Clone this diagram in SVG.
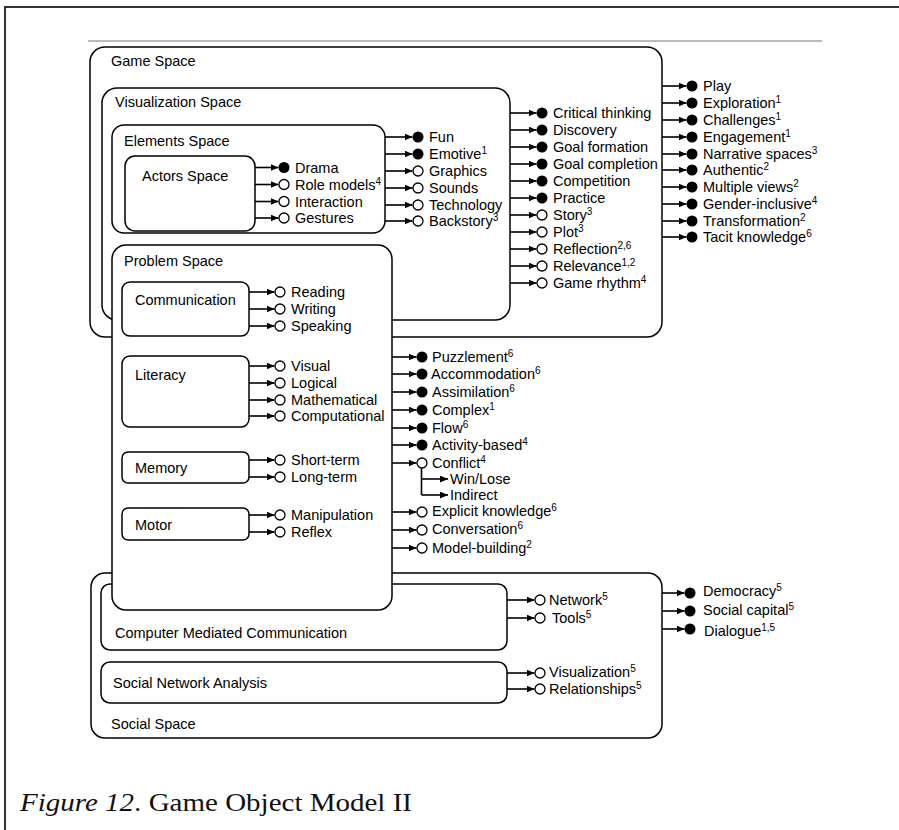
<svg xmlns="http://www.w3.org/2000/svg" width="899" height="830" viewBox="0 0 899 830">
<defs>
<marker id="ah" markerUnits="userSpaceOnUse" markerWidth="9" markerHeight="8" refX="8" refY="3.5" orient="auto"><path d="M0,0 L8,3.5 L0,7 z" fill="#000"/></marker>
<style>
.box{fill:#fff;stroke:#000;stroke-width:1.5}
.lbl{font-family:"Liberation Sans",Arial,sans-serif;font-size:14.5px;fill:#000}
.it{font-family:"Liberation Sans",Arial,sans-serif;font-size:14.5px;fill:#000}
.sup{font-size:10px}
.f{fill:#000}
.h{fill:#fff;stroke:#000;stroke-width:1.3}
.c line,.c path{stroke:#000;stroke-width:1.6;fill:none}
.cap{font-family:"Liberation Serif","Times New Roman",serif;font-size:25px;fill:#111}
</style>
</defs>
<rect width="899" height="830" fill="#fff"/>
<path d="M5,830 V7 H899" fill="none" stroke="#333" stroke-width="2"/>
<line x1="88" y1="41" x2="822" y2="41" stroke="#bbb" stroke-width="2"/>

<g id="game-space"><rect class="box" x="90" y="47" width="572" height="290" rx="15"/><text class="lbl" x="111" y="66">Game Space</text></g>
<g id="visualization-space"><rect class="box" x="102" y="88" width="408" height="232" rx="15"/><text class="lbl" x="115" y="107">Visualization Space</text></g>
<g id="elements-space"><rect class="box" x="112" y="125" width="273" height="108" rx="12"/><text class="lbl" x="124" y="146">Elements Space</text></g>
<g id="actors-space"><rect class="box" x="125" y="156" width="130" height="75" rx="10"/><text class="lbl" x="142" y="181">Actors Space</text></g>
<g id="social-space"><rect class="box" x="91" y="573" width="571" height="165" rx="14"/><text class="lbl" x="111" y="729">Social Space</text></g>
<g id="cmc"><rect class="box" x="101" y="584" width="406" height="66" rx="9"/><text class="lbl" x="115" y="638">Computer Mediated Communication</text></g>
<g id="sna"><rect class="box" x="101" y="662" width="406" height="41" rx="9"/><text class="lbl" x="113" y="688">Social Network Analysis</text></g>
<g id="problem-space"><rect class="box" x="112" y="245" width="280" height="365" rx="14"/><text class="lbl" x="124" y="266">Problem Space</text></g>
<g id="communication"><rect class="box" x="122" y="282" width="127" height="54" rx="8"/><text class="lbl" x="135" y="305">Communication</text></g>
<g id="literacy"><rect class="box" x="122" y="356" width="127" height="71" rx="8"/><text class="lbl" x="135" y="380">Literacy</text></g>
<g id="memory"><rect class="box" x="122" y="452" width="127" height="31" rx="6"/><text class="lbl" x="135" y="473">Memory</text></g>
<g id="motor"><rect class="box" x="122" y="508" width="127" height="32" rx="6"/><text class="lbl" x="135" y="530">Motor</text></g>

<g id="connectors" class="c" marker-end="url(#ah)">
<line x1="255" y1="167.5" x2="278.5" y2="167.5"/><line x1="255" y1="184.5" x2="278.5" y2="184.5"/><line x1="255" y1="201.5" x2="278.5" y2="201.5"/><line x1="255" y1="218" x2="278.5" y2="218"/>
<line x1="385" y1="137" x2="412.5" y2="137"/><line x1="385" y1="154" x2="412.5" y2="154"/><line x1="385" y1="171" x2="412.5" y2="171"/><line x1="385" y1="188" x2="412.5" y2="188"/><line x1="385" y1="205" x2="412.5" y2="205"/><line x1="385" y1="221" x2="412.5" y2="221"/>
<line x1="510" y1="113" x2="536.5" y2="113"/><line x1="510" y1="130" x2="536.5" y2="130"/><line x1="510" y1="147" x2="536.5" y2="147"/><line x1="510" y1="164" x2="536.5" y2="164"/><line x1="510" y1="181" x2="536.5" y2="181"/><line x1="510" y1="198" x2="536.5" y2="198"/><line x1="510" y1="215" x2="536.5" y2="215"/><line x1="510" y1="232" x2="536.5" y2="232"/><line x1="510" y1="249" x2="536.5" y2="249"/><line x1="510" y1="266" x2="536.5" y2="266"/><line x1="510" y1="283" x2="536.5" y2="283"/>
<line x1="662" y1="86" x2="686.5" y2="86"/><line x1="662" y1="103" x2="686.5" y2="103"/><line x1="662" y1="120" x2="686.5" y2="120"/><line x1="662" y1="137" x2="686.5" y2="137"/><line x1="662" y1="154" x2="686.5" y2="154"/><line x1="662" y1="170" x2="686.5" y2="170"/><line x1="662" y1="187" x2="686.5" y2="187"/><line x1="662" y1="204" x2="686.5" y2="204"/><line x1="662" y1="221" x2="686.5" y2="221"/><line x1="662" y1="237" x2="686.5" y2="237"/>
<line x1="249" y1="292" x2="274.5" y2="292"/><line x1="249" y1="309" x2="274.5" y2="309"/><line x1="249" y1="326" x2="274.5" y2="326"/>
<line x1="249" y1="366" x2="274.5" y2="366"/><line x1="249" y1="383" x2="274.5" y2="383"/><line x1="249" y1="400" x2="274.5" y2="400"/><line x1="249" y1="416" x2="274.5" y2="416"/>
<line x1="249" y1="460" x2="274.5" y2="460"/><line x1="249" y1="477" x2="274.5" y2="477"/>
<line x1="249" y1="515" x2="274.5" y2="515"/><line x1="249" y1="532" x2="274.5" y2="532"/>
<line x1="392" y1="357" x2="416.5" y2="357"/><line x1="392" y1="374" x2="416.5" y2="374"/><line x1="392" y1="392" x2="416.5" y2="392"/><line x1="392" y1="410" x2="416.5" y2="410"/><line x1="392" y1="428" x2="416.5" y2="428"/><line x1="392" y1="445" x2="416.5" y2="445"/><line x1="392" y1="463" x2="416.5" y2="463"/>
<line x1="392" y1="512" x2="416.5" y2="512"/><line x1="392" y1="530" x2="416.5" y2="530"/><line x1="392" y1="548" x2="416.5" y2="548"/>
<path d="M421.5,468 V495" marker-end="none"/>
<line x1="421.5" y1="479" x2="448" y2="479"/><line x1="421.5" y1="495" x2="448" y2="495"/>
<line x1="507" y1="600" x2="534.5" y2="600"/><line x1="507" y1="618" x2="534.5" y2="618"/>
<line x1="507" y1="673" x2="534.5" y2="673"/><line x1="507" y1="689" x2="534.5" y2="689"/>
<line x1="662" y1="593" x2="684.5" y2="593"/><line x1="662" y1="611" x2="684.5" y2="611"/><line x1="662" y1="629" x2="684.5" y2="629"/>
</g>

<g id="actors-items">
<g id="drama"><circle class="f" cx="284" cy="167.5" r="5.5"/><text class="it" x="295" y="172.5">Drama</text></g>
<g id="role-models"><circle class="h" cx="284" cy="184.5" r="5"/><text class="it" x="295" y="189.5">Role models<tspan class="sup" dy="-5">4</tspan></text></g>
<g id="interaction"><circle class="h" cx="284" cy="201.5" r="5"/><text class="it" x="295" y="206.5">Interaction</text></g>
<g id="gestures"><circle class="h" cx="284" cy="218" r="5"/><text class="it" x="295" y="223">Gestures</text></g>
</g>
<g id="elements-items">
<g id="fun"><circle class="f" cx="418" cy="137" r="5.5"/><text class="it" x="429" y="142">Fun</text></g>
<g id="emotive"><circle class="f" cx="418" cy="154" r="5.5"/><text class="it" x="429" y="159">Emotive<tspan class="sup" dy="-5">1</tspan></text></g>
<g id="graphics"><circle class="h" cx="418" cy="171" r="5"/><text class="it" x="429" y="176">Graphics</text></g>
<g id="sounds"><circle class="h" cx="418" cy="188" r="5"/><text class="it" x="429" y="193">Sounds</text></g>
<g id="technology"><circle class="h" cx="418" cy="205" r="5"/><text class="it" x="429" y="210">Technology</text></g>
<g id="backstory"><circle class="h" cx="418" cy="221" r="5"/><text class="it" x="429" y="226">Backstory<tspan class="sup" dy="-5">3</tspan></text></g>
</g>
<g id="visualization-items">
<g id="critical-thinking"><circle class="f" cx="542" cy="113" r="5.5"/><text class="it" x="553" y="118">Critical thinking</text></g>
<g id="discovery"><circle class="f" cx="542" cy="130" r="5.5"/><text class="it" x="553" y="135">Discovery</text></g>
<g id="goal-formation"><circle class="f" cx="542" cy="147" r="5.5"/><text class="it" x="553" y="152">Goal formation</text></g>
<g id="goal-completion"><circle class="f" cx="542" cy="164" r="5.5"/><text class="it" x="553" y="169">Goal completion</text></g>
<g id="competition"><circle class="f" cx="542" cy="181" r="5.5"/><text class="it" x="553" y="186">Competition</text></g>
<g id="practice"><circle class="f" cx="542" cy="198" r="5.5"/><text class="it" x="553" y="203">Practice</text></g>
<g id="story"><circle class="h" cx="542" cy="215" r="5"/><text class="it" x="553" y="220">Story<tspan class="sup" dy="-5">3</tspan></text></g>
<g id="plot"><circle class="h" cx="542" cy="232" r="5"/><text class="it" x="553" y="237">Plot<tspan class="sup" dy="-5">3</tspan></text></g>
<g id="reflection"><circle class="h" cx="542" cy="249" r="5"/><text class="it" x="553" y="254">Reflection<tspan class="sup" dy="-5">2,6</tspan></text></g>
<g id="relevance"><circle class="h" cx="542" cy="266" r="5"/><text class="it" x="553" y="271">Relevance<tspan class="sup" dy="-5">1,2</tspan></text></g>
<g id="game-rhythm"><circle class="h" cx="542" cy="283" r="5"/><text class="it" x="553" y="288">Game rhythm<tspan class="sup" dy="-5">4</tspan></text></g>
</g>
<g id="game-items">
<g id="play"><circle class="f" cx="692" cy="86" r="5.5"/><text class="it" x="703" y="91">Play</text></g>
<g id="exploration"><circle class="f" cx="692" cy="103" r="5.5"/><text class="it" x="703" y="108">Exploration<tspan class="sup" dy="-5">1</tspan></text></g>
<g id="challenges"><circle class="f" cx="692" cy="120" r="5.5"/><text class="it" x="703" y="125">Challenges<tspan class="sup" dy="-5">1</tspan></text></g>
<g id="engagement"><circle class="f" cx="692" cy="137" r="5.5"/><text class="it" x="703" y="142">Engagement<tspan class="sup" dy="-5">1</tspan></text></g>
<g id="narrative-spaces"><circle class="f" cx="692" cy="154" r="5.5"/><text class="it" x="703" y="159">Narrative spaces<tspan class="sup" dy="-5">3</tspan></text></g>
<g id="authentic"><circle class="f" cx="692" cy="170" r="5.5"/><text class="it" x="703" y="175">Authentic<tspan class="sup" dy="-5">2</tspan></text></g>
<g id="multiple-views"><circle class="f" cx="692" cy="187" r="5.5"/><text class="it" x="703" y="192">Multiple views<tspan class="sup" dy="-5">2</tspan></text></g>
<g id="gender-inclusive"><circle class="f" cx="692" cy="204" r="5.5"/><text class="it" x="703" y="209">Gender-inclusive<tspan class="sup" dy="-5">4</tspan></text></g>
<g id="transformation"><circle class="f" cx="692" cy="221" r="5.5"/><text class="it" x="703" y="226">Transformation<tspan class="sup" dy="-5">2</tspan></text></g>
<g id="tacit-knowledge"><circle class="f" cx="692" cy="237" r="5.5"/><text class="it" x="703" y="242">Tacit knowledge<tspan class="sup" dy="-5">6</tspan></text></g>
</g>
<g id="problem-sub-items">
<g id="reading"><circle class="h" cx="280" cy="292" r="5"/><text class="it" x="291" y="297">Reading</text></g>
<g id="writing"><circle class="h" cx="280" cy="309" r="5"/><text class="it" x="291" y="314">Writing</text></g>
<g id="speaking"><circle class="h" cx="280" cy="326" r="5"/><text class="it" x="291" y="331">Speaking</text></g>
<g id="visual"><circle class="h" cx="280" cy="366" r="5"/><text class="it" x="291" y="371">Visual</text></g>
<g id="logical"><circle class="h" cx="280" cy="383" r="5"/><text class="it" x="291" y="388">Logical</text></g>
<g id="mathematical"><circle class="h" cx="280" cy="400" r="5"/><text class="it" x="291" y="405">Mathematical</text></g>
<g id="computational"><circle class="h" cx="280" cy="416" r="5"/><text class="it" x="291" y="421">Computational</text></g>
<g id="short-term"><circle class="h" cx="280" cy="460" r="5"/><text class="it" x="291" y="465">Short-term</text></g>
<g id="long-term"><circle class="h" cx="280" cy="477" r="5"/><text class="it" x="291" y="482">Long-term</text></g>
<g id="manipulation"><circle class="h" cx="280" cy="515" r="5"/><text class="it" x="291" y="520">Manipulation</text></g>
<g id="reflex"><circle class="h" cx="280" cy="532" r="5"/><text class="it" x="291" y="537">Reflex</text></g>
</g>
<g id="problem-items">
<g id="puzzlement"><circle class="f" cx="422" cy="357" r="5.5"/><text class="it" x="432" y="362">Puzzlement<tspan class="sup" dy="-5">6</tspan></text></g>
<g id="accommodation"><circle class="f" cx="422" cy="374" r="5.5"/><text class="it" x="431" y="379">Accommodation<tspan class="sup" dy="-5">6</tspan></text></g>
<g id="assimilation"><circle class="f" cx="422" cy="392" r="5.5"/><text class="it" x="432" y="397">Assimilation<tspan class="sup" dy="-5">6</tspan></text></g>
<g id="complex"><circle class="f" cx="422" cy="410" r="5.5"/><text class="it" x="432" y="415">Complex<tspan class="sup" dy="-5">1</tspan></text></g>
<g id="flow"><circle class="f" cx="422" cy="428" r="5.5"/><text class="it" x="432" y="433">Flow<tspan class="sup" dy="-5">6</tspan></text></g>
<g id="activity-based"><circle class="f" cx="422" cy="445" r="5.5"/><text class="it" x="432" y="450">Activity-based<tspan class="sup" dy="-5">4</tspan></text></g>
<g id="conflict"><circle class="h" cx="422" cy="463" r="5"/><text class="it" x="432" y="468">Conflict<tspan class="sup" dy="-5">4</tspan></text></g>
<g id="win-lose"><text class="it" x="450" y="484">Win/Lose</text></g>
<g id="indirect"><text class="it" x="450" y="500">Indirect</text></g>
<g id="explicit-knowledge"><circle class="h" cx="422" cy="512" r="5"/><text class="it" x="432" y="516">Explicit knowledge<tspan class="sup" dy="-5">6</tspan></text></g>
<g id="conversation"><circle class="h" cx="422" cy="530" r="5"/><text class="it" x="432" y="534">Conversation<tspan class="sup" dy="-5">6</tspan></text></g>
<g id="model-building"><circle class="h" cx="422" cy="548" r="5"/><text class="it" x="432" y="553">Model-building<tspan class="sup" dy="-5">2</tspan></text></g>
</g>
<g id="social-items">
<g id="network"><circle class="h" cx="540" cy="600" r="5"/><text class="it" x="549" y="605">Network<tspan class="sup" dy="-5">5</tspan></text></g>
<g id="tools"><circle class="h" cx="540" cy="618" r="5"/><text class="it" x="552" y="623">Tools<tspan class="sup" dy="-5">5</tspan></text></g>
<g id="visualization5"><circle class="h" cx="540" cy="673" r="5"/><text class="it" x="549" y="677">Visualization<tspan class="sup" dy="-5">5</tspan></text></g>
<g id="relationships"><circle class="h" cx="540" cy="689" r="5"/><text class="it" x="549" y="694">Relationships<tspan class="sup" dy="-5">5</tspan></text></g>
<g id="democracy"><circle class="f" cx="690" cy="593" r="5.5"/><text class="it" x="703" y="596">Democracy<tspan class="sup" dy="-5">5</tspan></text></g>
<g id="social-capital"><circle class="f" cx="690" cy="611" r="5.5"/><text class="it" x="703" y="615">Social capital<tspan class="sup" dy="-5">5</tspan></text></g>
<g id="dialogue"><circle class="f" cx="690" cy="629" r="5.5"/><text class="it" x="704" y="636">Dialogue<tspan class="sup" dy="-5">1,5</tspan></text></g>
</g>

<text class="cap" x="20" y="811" textLength="392" lengthAdjust="spacingAndGlyphs"><tspan font-style="italic">Figure 12</tspan>. Game Object Model II</text>
</svg>
